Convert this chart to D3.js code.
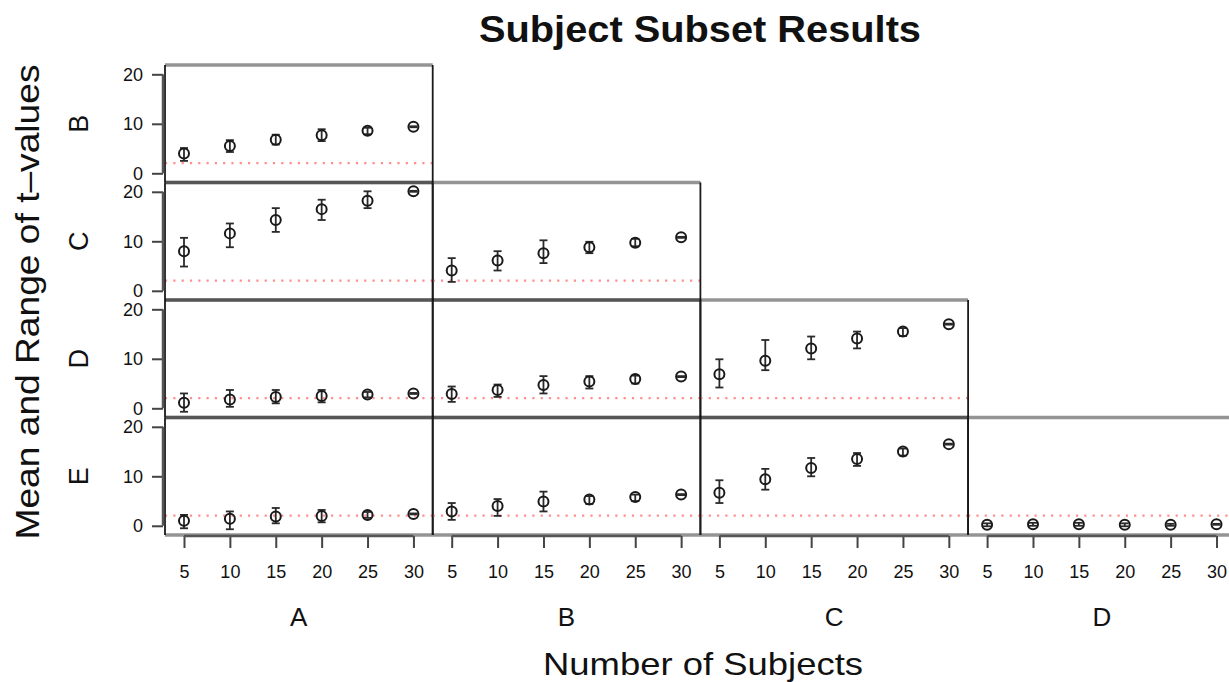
<!DOCTYPE html>
<html>
<head>
<meta charset="utf-8">
<script src="https://cdn.jsdelivr.net/npm/d3@7"></script>
<style>
  body { margin: 0; background: #fff; }
  text { font-family: "Liberation Sans", Arial, Helvetica, sans-serif; fill: #111; }
</style>
</head>
<body>
<script>
// subjects sampled, panel rows / columns, y ticks
const subjects = [5, 10, 15, 20, 25, 30];
const rowNames = ['B', 'C', 'D', 'E'];
const colNames = ['A', 'B', 'C', 'D'];
const yTicks = [0, 10, 20];
const tCrit = 2.04;

// mean / min / max of t per panel (row_col)
const meanB_A = [4.0, 5.5, 6.8, 7.7, 8.6, 9.4];
const lowB_A  = [2.5, 4.3, 5.8, 6.5, 7.9, 9.3];
const highB_A = [5.1, 6.7, 7.8, 8.9, 9.2, 9.5];

const meanC_A = [8.0, 11.6, 14.3, 16.5, 18.2, 20.1];
const lowC_A  = [4.9, 8.8, 11.9, 14.3, 16.7, 20.0];
const highC_A = [10.7, 13.6, 16.7, 18.4, 20.1, 20.2];

const meanC_B = [4.1, 6.1, 7.6, 8.8, 9.7, 10.8];
const lowC_B  = [1.8, 4.1, 5.6, 7.6, 9.0, 10.7];
const highC_B = [6.6, 8.0, 10.2, 9.9, 10.5, 10.9];

const meanD_A = [1.1, 1.8, 2.3, 2.5, 2.8, 3.0];
const lowD_A  = [-0.7, 0.3, 1.0, 1.2, 2.2, 2.9];
const highD_A = [3.0, 3.7, 3.7, 3.7, 3.3, 3.1];

const meanD_B = [2.9, 3.7, 4.7, 5.4, 5.9, 6.4];
const lowD_B  = [1.3, 2.3, 3.0, 4.0, 5.0, 6.3];
const highD_B = [4.4, 4.8, 6.5, 6.5, 6.6, 6.5];

const meanD_C = [6.9, 9.6, 12.1, 14.1, 15.5, 17.0];
const lowD_C  = [4.2, 7.7, 9.9, 12.1, 14.6, 16.9];
const highD_C = [9.9, 13.8, 14.5, 15.5, 16.2, 17.1];

const meanE_A = [1.0, 1.4, 1.9, 2.0, 2.2, 2.4];
const lowE_A  = [-0.5, -0.7, 0.5, 0.7, 1.6, 2.3];
const highE_A = [2.2, 2.9, 3.6, 3.2, 2.8, 2.5];

const meanE_B = [2.9, 4.0, 4.9, 5.3, 5.8, 6.3];
const lowE_B  = [1.2, 2.0, 2.9, 4.4, 5.0, 6.2];
const highE_B = [4.6, 5.4, 6.9, 6.0, 6.3, 6.4];

const meanE_C = [6.7, 9.4, 11.7, 13.5, 15.0, 16.5];
const lowE_C  = [4.6, 7.3, 10.0, 12.1, 14.2, 16.4];
const highE_C = [9.2, 11.5, 13.7, 14.7, 15.6, 16.6];

const meanE_D = [0.2, 0.3, 0.3, 0.2, 0.2, 0.3];
const lowE_D  = [-0.1, 0.0, 0.0, -0.1, 0.0, 0.2];
const highE_D = [0.5, 0.6, 0.6, 0.5, 0.4, 0.4];

const panels = [
  { row: 0, col: 0, mean: meanB_A, low: lowB_A, high: highB_A },
  { row: 1, col: 0, mean: meanC_A, low: lowC_A, high: highC_A },
  { row: 1, col: 1, mean: meanC_B, low: lowC_B, high: highC_B },
  { row: 2, col: 0, mean: meanD_A, low: lowD_A, high: highD_A },
  { row: 2, col: 1, mean: meanD_B, low: lowD_B, high: highD_B },
  { row: 2, col: 2, mean: meanD_C, low: lowD_C, high: highD_C },
  { row: 3, col: 0, mean: meanE_A, low: lowE_A, high: highE_A },
  { row: 3, col: 1, mean: meanE_B, low: lowE_B, high: highE_B },
  { row: 3, col: 2, mean: meanE_C, low: lowE_C, high: highE_C },
  { row: 3, col: 3, mean: meanE_D, low: lowE_D, high: highE_D }
];

const width = 1229, height = 682;
const left0 = 165, top0 = 65;
const panelW = 267.7, panelH = 117.5;

const xScale = d3.scaleLinear().domain([2.93, 32.1]).range([0, panelW]);
const yScale = d3.scaleLinear().domain([-1.86, 21.88]).range([panelH, 0]);

const svg = d3.select('body').append('svg')
  .attr('width', width)
  .attr('height', height);

// panel contents
panels.forEach(p => {
  const g = svg.append('g')
    .attr('transform', `translate(${left0 + p.col * panelW},${top0 + p.row * panelH})`);

  const pts = subjects.map((s, i) => ({ s, m: p.mean[i], lo: p.low[i], hi: p.high[i] }));

  g.append('line')
    .attr('x1', 0).attr('x2', panelW)
    .attr('y1', yScale(tCrit)).attr('y2', yScale(tCrit))
    .attr('stroke', '#ff8f8f')
    .attr('stroke-width', 2.2)
    .attr('stroke-dasharray', '2.2,6.1');

  const bars = g.selectAll('.bar').data(pts).enter().append('g').attr('class', 'bar');
  bars.append('line')
    .attr('x1', d => xScale(d.s)).attr('x2', d => xScale(d.s))
    .attr('y1', d => yScale(d.lo)).attr('y2', d => yScale(d.hi));
  bars.append('line')
    .attr('x1', d => xScale(d.s) - 4).attr('x2', d => xScale(d.s) + 4)
    .attr('y1', d => yScale(d.lo)).attr('y2', d => yScale(d.lo));
  bars.append('line')
    .attr('x1', d => xScale(d.s) - 4).attr('x2', d => xScale(d.s) + 4)
    .attr('y1', d => yScale(d.hi)).attr('y2', d => yScale(d.hi));
  bars.selectAll('line')
    .attr('stroke', '#2a2a2a')
    .attr('stroke-width', 1.8);

  g.selectAll('circle').data(pts).enter().append('circle')
    .attr('cx', d => xScale(d.s))
    .attr('cy', d => yScale(d.m))
    .attr('r', 5)
    .attr('fill', 'none')
    .attr('stroke', '#1a1a1a')
    .attr('stroke-width', 2);

  // box: horizontal edges gray & thick, vertical edges dark & thin
  g.append('line').attr('x1', 0).attr('x2', panelW).attr('y1', 0).attr('y2', 0)
    .attr('class', 'hedge');
  g.append('line').attr('x1', 0).attr('x2', panelW).attr('y1', panelH).attr('y2', panelH)
    .attr('class', 'hedge');
  g.selectAll('.hedge')
    .attr('stroke', 'rgba(0,0,0,0.42)')
    .attr('stroke-width', 3.5);
  g.append('line').attr('x1', 0).attr('x2', 0).attr('y1', 0).attr('y2', panelH)
    .attr('class', 'vedge');
  g.append('line').attr('x1', panelW).attr('x2', panelW).attr('y1', 0).attr('y2', panelH)
    .attr('class', 'vedge');
  g.selectAll('.vedge')
    .attr('stroke', '#1a1a1a')
    .attr('stroke-width', 1.8);

  // y axis on the first column
  if (p.col === 0) {
    const ya = g.append('g')
      .attr('transform', 'translate(-2,0)')
      .call(d3.axisLeft(yScale).tickValues(yTicks).tickSize(11).tickPadding(9));
    ya.select('.domain').remove();
    ya.append('line')
      .attr('y1', yScale(0)).attr('y2', yScale(20))
      .attr('stroke', '#555').attr('stroke-width', 2.5);
    ya.selectAll('.tick line').attr('stroke', '#444').attr('stroke-width', 2);
    ya.selectAll('.tick text')
      .style('font-size', '18px')
      .attr('fill', '#222');
  }

  // x axis on the last row
  if (p.row === 3) {
    const xa = g.append('g')
      .attr('transform', `translate(0,${panelH + 1})`)
      .call(d3.axisBottom(xScale).tickValues(subjects).tickSize(12).tickPadding(17));
    xa.select('.domain').remove();
    xa.append('line')
      .attr('x1', xScale(5)).attr('x2', xScale(30))
      .attr('stroke', '#555').attr('stroke-width', 2.5);
    xa.selectAll('.tick line').attr('stroke', '#444').attr('stroke-width', 2);
    xa.selectAll('.tick text')
      .style('font-size', '18px')
      .attr('fill', '#222');
  }
});

// column labels
svg.selectAll('.colLabel').data(colNames).enter().append('text')
  .attr('class', 'colLabel')
  .attr('x', (d, i) => left0 + i * panelW + xScale(17.5))
  .attr('y', 626)
  .attr('text-anchor', 'middle')
  .style('font-size', '26px')
  .text(d => d);

// row labels
svg.selectAll('.rowLabel').data(rowNames).enter().append('text')
  .attr('class', 'rowLabel')
  .attr('transform', (d, i) => `translate(88,${top0 + i * panelH + yScale(10)}) rotate(-90)`)
  .attr('text-anchor', 'middle')
  .style('font-size', '27px')
  .text(d => d);

// titles
svg.append('text')
  .attr('x', 700).attr('y', 42)
  .attr('text-anchor', 'middle')
  .attr('textLength', 442).attr('lengthAdjust', 'spacingAndGlyphs')
  .style('font-size', '37px').style('font-weight', 'bold')
  .text('Subject Subset Results');

svg.append('text')
  .attr('x', 703).attr('y', 675)
  .attr('text-anchor', 'middle')
  .attr('textLength', 320).attr('lengthAdjust', 'spacingAndGlyphs')
  .style('font-size', '32px')
  .text('Number of Subjects');

svg.append('text')
  .attr('transform', 'translate(39,302) rotate(-90)')
  .attr('text-anchor', 'middle')
  .attr('textLength', 475).attr('lengthAdjust', 'spacingAndGlyphs')
  .style('font-size', '33px')
  .text('Mean and Range of t\u2013values');
</script>
</body>
</html>
